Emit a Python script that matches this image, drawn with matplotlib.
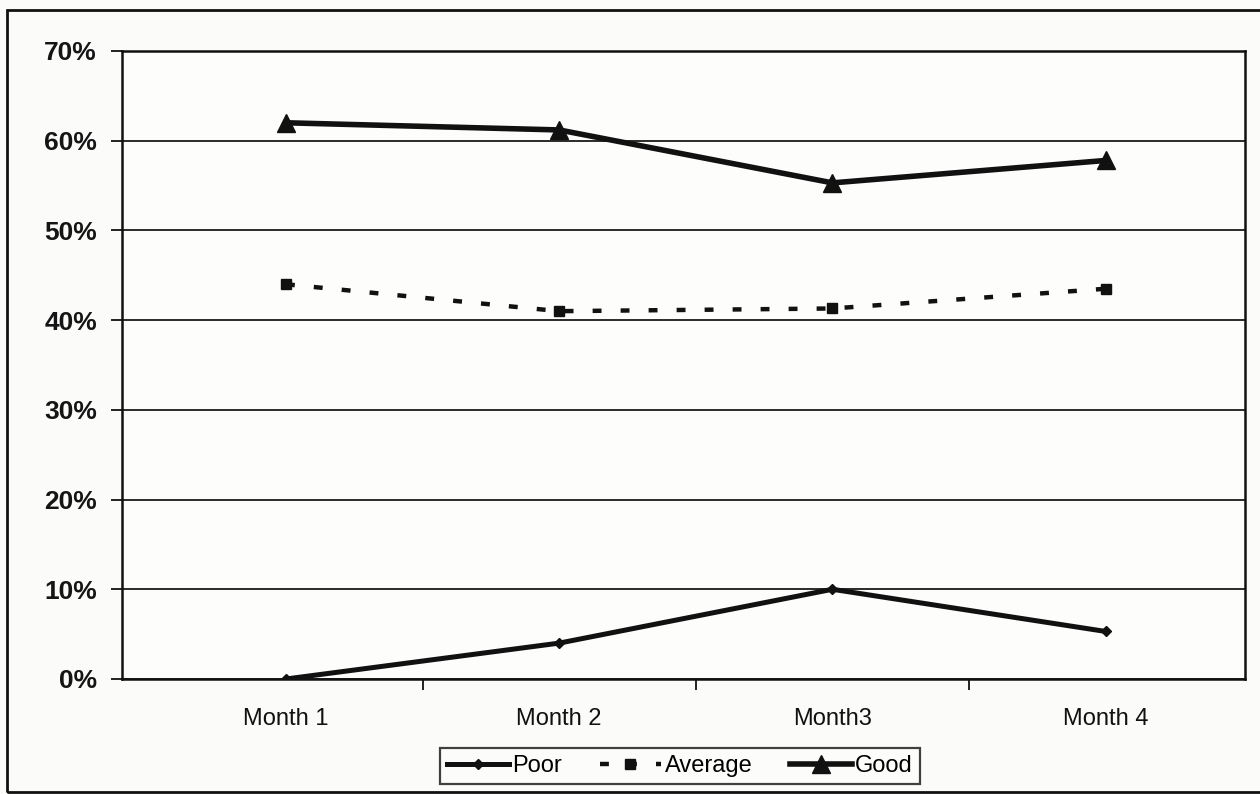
import matplotlib
matplotlib.use("Agg")
import matplotlib.pyplot as plt
from matplotlib.patches import Rectangle

plt.rcParams['font.family'] = ['Liberation Sans', 'DejaVu Sans']

# Share of ratings per month
months = ["Month 1", "Month 2", "Month3", "Month 4"]
poor = [0.0, 4.0, 10.0, 5.3]
average = [44.0, 41.0, 41.3, 43.5]
good = [62.0, 61.2, 55.3, 57.8]
y_ticks = [0, 10, 20, 30, 40, 50, 60, 70]
y_tick_labels = ["0%", "10%", "20%", "30%", "40%", "50%", "60%", "70%"]

W, H = 1260, 794
fig = plt.figure(figsize=(W / 100, H / 100), dpi=100)
fig.patch.set_facecolor("#fbfbfa")

# outer chart frame
fig.add_artist(Rectangle((7 / W, 1 - 792 / H), (1262 - 7) / W, (792 - 10) / H,
                         transform=fig.transFigure, fill=False,
                         edgecolor="#111111", linewidth=2.0, clip_on=False))

ax = fig.add_axes([122 / W, 1 - 679 / H, (1245 - 122) / W, (679 - 51) / H])
ax.set_facecolor("#fdfdfc")

x = list(range(len(months)))

ax.plot(x, good, color="#111111", linewidth=4.0, marker="^", markersize=13,
        markerfacecolor="#111111", markeredgecolor="#111111", label="Good",
        zorder=4)
ax.plot(x, average, color="#111111", linewidth=3.2, dashes=(2.0, 4.3),
        marker="s", markersize=7.5, markerfacecolor="#111111",
        markeredgecolor="#111111", label="Average", zorder=4)
ax.plot(x, poor, color="#111111", linewidth=3.6, marker="D", markersize=5.5,
        markerfacecolor="#111111", markeredgecolor="#111111", label="Poor",
        zorder=4)

ax.set_ylim(0, 70)
ax.set_xlim(-0.6, 3.51)
ax.set_yticks(y_ticks)
ax.set_yticklabels(y_tick_labels, fontsize=19, fontweight="bold",
                   color="#151515")
ax.yaxis.grid(True, color="#1a1a1a", linewidth=1.3)
ax.set_axisbelow(True)

ax.set_xticks(x)
ax.set_xticklabels(months, fontsize=17, color="#111111")
ax.set_xticks([0.5, 1.5, 2.5], minor=True)
ax.tick_params(axis="x", which="major", length=0, pad=21)
ax.tick_params(axis="x", which="minor", length=8, width=1.3, direction="out",
               color="#111111")
ax.tick_params(axis="y", length=8, width=1.3, color="#111111", pad=10)

for side in ("left", "right", "top", "bottom"):
    ax.spines[side].set_color("#111111")
    ax.spines[side].set_linewidth(1.8)

handles, labels = ax.get_legend_handles_labels()
order = [2, 1, 0]
leg = fig.legend([handles[i] for i in order], [labels[i] for i in order],
                 loc="center", bbox_to_anchor=(680 / W, 1 - 766 / H),
                 ncol=3, frameon=True, fancybox=False, fontsize=17,
                 handlelength=2.6, columnspacing=1.6, handletextpad=0.15,
                 borderpad=0.3, borderaxespad=0.2)
leg.get_frame().set_edgecolor("#111111")
leg.get_frame().set_linewidth(1.6)
leg.get_frame().set_facecolor("#fdfdfc")

fig.savefig("out.png", dpi=100, facecolor=fig.get_facecolor())
